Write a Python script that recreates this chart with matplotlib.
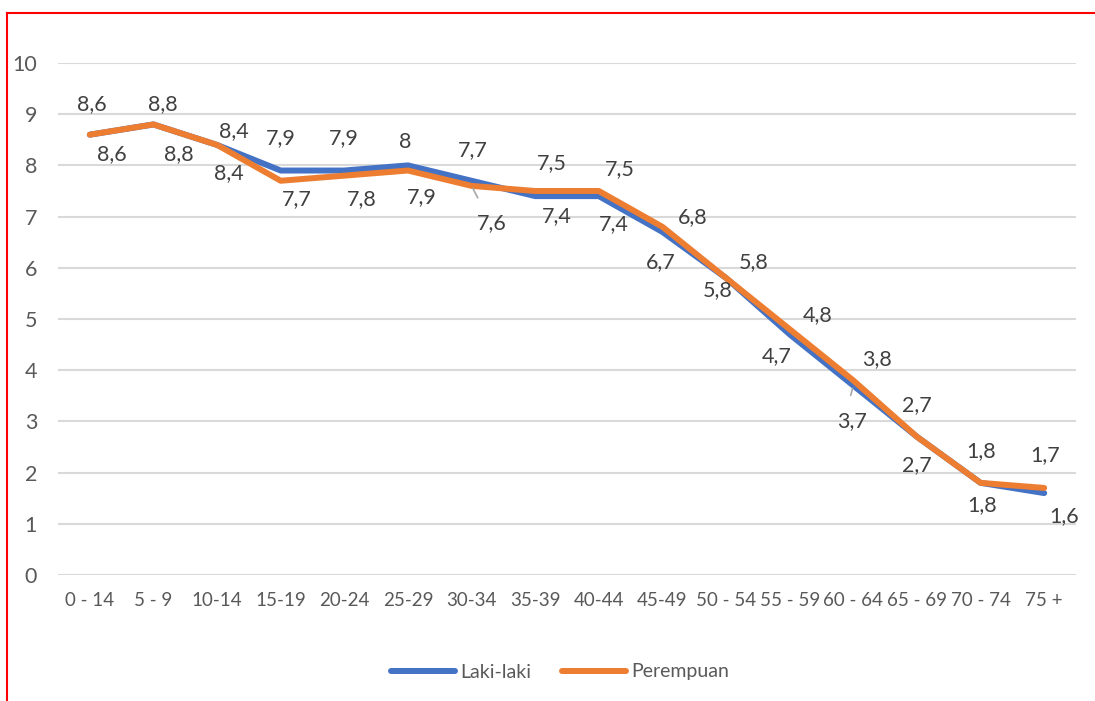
import matplotlib.pyplot as plt
from matplotlib.lines import Line2D

# data
age_groups = ['0 - 14', '5 - 9', '10-14', '15-19', '20-24', '25-29', '30-34', '35-39',
              '40-44', '45-49', '50 - 54', '55 - 59', '60 - 64', '65 - 69', '70 - 74', '75 +']
laki = [8.6, 8.8, 8.4, 7.9, 7.9, 8.0, 7.7, 7.4, 7.4, 6.7, 5.8, 4.7, 3.7, 2.7, 1.8, 1.6]
perempuan = [8.6, 8.8, 8.4, 7.7, 7.8, 7.9, 7.6, 7.5, 7.5, 6.8, 5.8, 4.8, 3.8, 2.7, 1.8, 1.7]

# label offsets in pixels (dx, dy with y up)
off_laki = [(2, 31), (9, 20), (17, 14), (0, 32), (0, 32), (-3, 23), (1, 31), (22, -20),
            (15, -28), (-2, -30), (-8, -12), (-13, -22), (-1, -36), (0, -28), (2, -22), (20, -23)]
off_per = [(22, -19), (25, -30), (12, -28), (16, -18), (17, -23), (14, -27), (20, -37), (17, 28),
           (21, 22), (30, 10), (28, 16), (28, 14), (24, 21), (0, 32), (1, 32), (1, 33)]
lead_laki = [12]
lead_per = [6]

blue = '#4472C4'
orange = '#ED7D31'
txt = '#595959'
font = 'Lato'

plt.rcParams['font.family'] = [font, 'DejaVu Sans']

fig = plt.figure(figsize=(10.95, 7.01), dpi=100)
ax = fig.add_axes([58/1095, 1-575/701, (1076-58)/1095, (575-63)/701])

x = list(range(len(age_groups)))
ax.plot(x, laki, color=blue, lw=4.3, solid_capstyle='round', solid_joinstyle='round', label='Laki-laki', zorder=3)
ax.plot(x, perempuan, color=orange, lw=4.3, solid_capstyle='round', solid_joinstyle='round', label='Perempuan', zorder=4)

def put_labels(vals, offs, leads):
    for i, v in enumerate(vals):
        lab = ('%g' % v).replace('.', ',')
        dx, dy = offs[i]
        if i in leads:
            ax.annotate(lab, (i, v), xytext=(dx, dy), textcoords='offset pixels',
                        ha='center', va='center', fontsize=15.5, color='#404040',
                        arrowprops=dict(arrowstyle='-', color='#A6A6A6', lw=1.2,
                                        shrinkA=10, shrinkB=2, relpos=(0.3, 1)), zorder=5)
        else:
            ax.annotate(lab, (i, v), xytext=(dx, dy), textcoords='offset pixels',
                        ha='center', va='center', fontsize=15.5, color='#404040', zorder=5)

put_labels(laki, off_laki, lead_laki)
put_labels(perempuan, off_per, lead_per)

ax.set_xlim(-0.5, len(age_groups) - 0.5)
ax.set_ylim(0, 10)
ax.set_yticks(range(0, 11))
ax.set_xticks(x)
ax.set_xticklabels(age_groups)
ax.tick_params(axis='both', length=0, labelcolor=txt)
ax.tick_params(axis='x', labelsize=13.5, pad=12)
ax.tick_params(axis='y', labelsize=15.5, pad=15)
ax.grid(axis='y', color='#D9D9D9', lw=1.5)
ax.set_axisbelow(True)
for s in ax.spines.values():
    s.set_visible(False)

leg = fig.legend(loc='center', bbox_to_anchor=(560/1095, 1-672/701), ncol=2, frameon=False,
                 fontsize=14, handlelength=3.3, columnspacing=1.6, handletextpad=0.25)
for t in leg.get_texts():
    t.set_color(txt)

# red frame pieces (top and left)
fig.add_artist(Line2D([7/1095, 1], [1-13/701, 1-13/701], color='red', lw=1.5))
fig.add_artist(Line2D([7/1095, 7/1095], [0, 1-13/701], color='red', lw=1.5))

fig.savefig('out.png', dpi=100)
